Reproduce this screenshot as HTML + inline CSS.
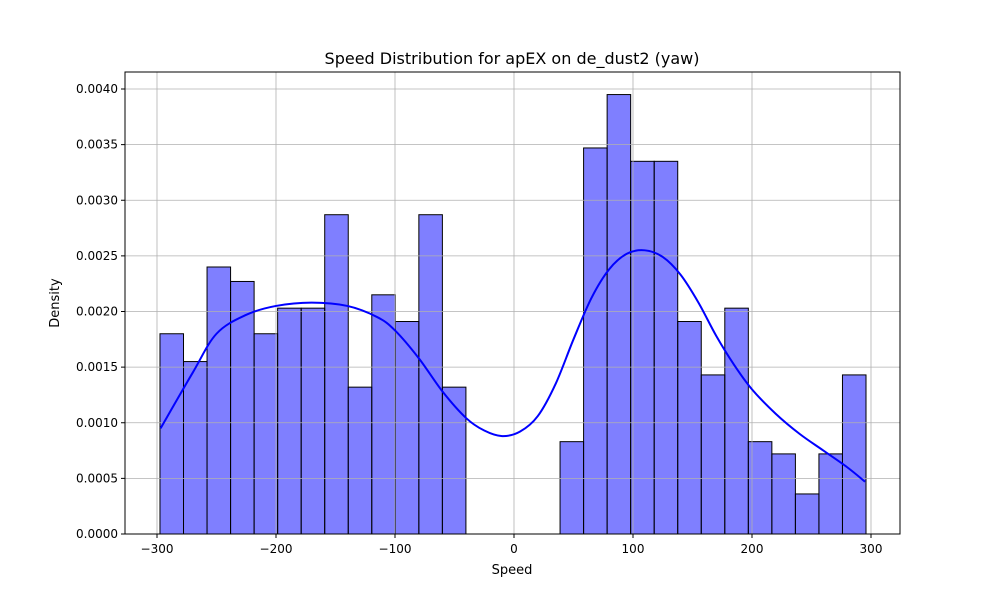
<!DOCTYPE html>
<html><head><meta charset="utf-8"><style>
body{margin:0;background:#fff;font-family:"Liberation Sans","DejaVu Sans",sans-serif;}
svg text{font-family:"DejaVu Sans","Liberation Sans",sans-serif;}
</style></head><body>
<svg id="chart" width="1000" height="600">
<rect width="1000" height="600" fill="#fff"/>
<g id="bars"></g><g id="grid"></g><g id="kde"></g><g id="axes"></g>
<text x="512" y="64" text-anchor="middle" font-size="16">Speed Distribution for apEX on de_dust2 (yaw)</text>
<text x="512" y="574" text-anchor="middle" font-size="13">Speed</text>
<text transform="translate(59,303) rotate(-90)" text-anchor="middle" font-size="13">Density</text>
</svg>
<script>
const binStart = -297.5;
const binEnd = 295.8;
const densities = [0.0018,0.00155,0.0024,0.00227,0.0018,0.00203,0.00203,0.00287,0.00132,0.00215,0.00191,0.00287,0.00132,0,0,0,0,0.00083,0.00347,0.00395,0.00335,0.00335,0.00191,0.00143,0.00203,0.00083,0.00072,0.00036,0.00072,0.00143];
const kdeX = [-297,-270,-250,-225,-200,-170,-140,-115,-100,-80,-60,-40,-25,-10,5,20,35,50,65,80,95,110,125,140,155,170,185,200,220,240,260,280,295];
const kdeY = [0.00095,0.00145,0.0018,0.00197,0.00205,0.00208,0.00205,0.00195,0.00183,0.00158,0.00128,0.00104,0.00093,0.00088,0.00092,0.00106,0.00135,0.00175,0.00212,0.00238,0.00252,0.00255,0.00249,0.00233,0.00208,0.00178,0.00152,0.0013,0.00108,0.0009,0.00075,0.0006,0.00047];
const xTicks = [-300,-200,-100,0,100,200,300];
const yTicks = [0,0.0005,0.001,0.0015,0.002,0.0025,0.003,0.0035,0.004];
const yLabels = ["0.0000","0.0005","0.0010","0.0015","0.0020","0.0025","0.0030","0.0035","0.0040"];
const xLabels = ["\u2212300","\u2212200","\u2212100","0","100","200","300"];

const L=125,R=900,T=72,B=534;
const sx=v=>514+v*1.19;
const sy=v=>534-v*111250;
const NS="http://www.w3.org/2000/svg";
function mk(tag,parent,attrs){const e=document.createElementNS(NS,tag);for(const k in attrs)e.setAttribute(k,attrs[k]);parent.appendChild(e);return e;}
const grid=document.getElementById('grid'),bars=document.getElementById('bars'),kde=document.getElementById('kde'),axes=document.getElementById('axes');
xTicks.forEach((t,i)=>{
  const gl=mk('line',grid,{x1:sx(t),x2:sx(t),y1:T,y2:B,stroke:'#b0b0b0','stroke-width':0.8});
  
  
  mk('line',axes,{x1:sx(t),x2:sx(t),y1:B,y2:B+4,stroke:'#000'});
  const tx=mk('text',axes,{x:sx(t),y:B+19,'text-anchor':'middle','font-size':12});
  tx.textContent=xLabels[i];
  
  
});
yTicks.forEach((t,i)=>{
  const gl=mk('line',grid,{x1:L,x2:R,y1:sy(t),y2:sy(t),stroke:'#b0b0b0','stroke-width':0.8});
  
  
  mk('line',axes,{x1:L-4,x2:L,y1:sy(t),y2:sy(t),stroke:'#000'});
  const tx=mk('text',axes,{x:L-7,y:sy(t)+4,'text-anchor':'end','font-size':12});
  tx.textContent=yLabels[i];
  
  
});
const bw=(binEnd-binStart)/densities.length;
densities.forEach((d,i)=>{
  if(d<=0)return;
  const x0=sx(binStart+i*bw),x1=sx(binStart+(i+1)*bw);
  const r=mk('rect',bars,{x:x0,y:sy(d),width:x1-x0,height:sy(0)-sy(d),fill:'rgba(0,0,255,0.5)',stroke:'#000','stroke-width':1});
  
  
});
const pts=kdeX.map((x,i)=>[sx(x),sy(kdeY[i])]);
let d='M'+pts[0][0]+','+pts[0][1];
for(let i=0;i<pts.length-1;i++){
  const p0=pts[Math.max(0,i-1)],p1=pts[i],p2=pts[i+1],p3=pts[Math.min(pts.length-1,i+2)];
  const c1=[p1[0]+(p2[0]-p0[0])/6,p1[1]+(p2[1]-p0[1])/6],c2=[p2[0]-(p3[0]-p1[0])/6,p2[1]-(p3[1]-p1[1])/6];
  d+=' C'+c1+' '+c2+' '+p2;
}
const path=mk('path',kde,{d:d,fill:'none',stroke:'#0000ff','stroke-width':2});


const frame=mk('rect',axes,{x:L,y:T,width:R-L,height:B-T,fill:'none',stroke:'#000','stroke-width':1});


</script>
</body></html>
